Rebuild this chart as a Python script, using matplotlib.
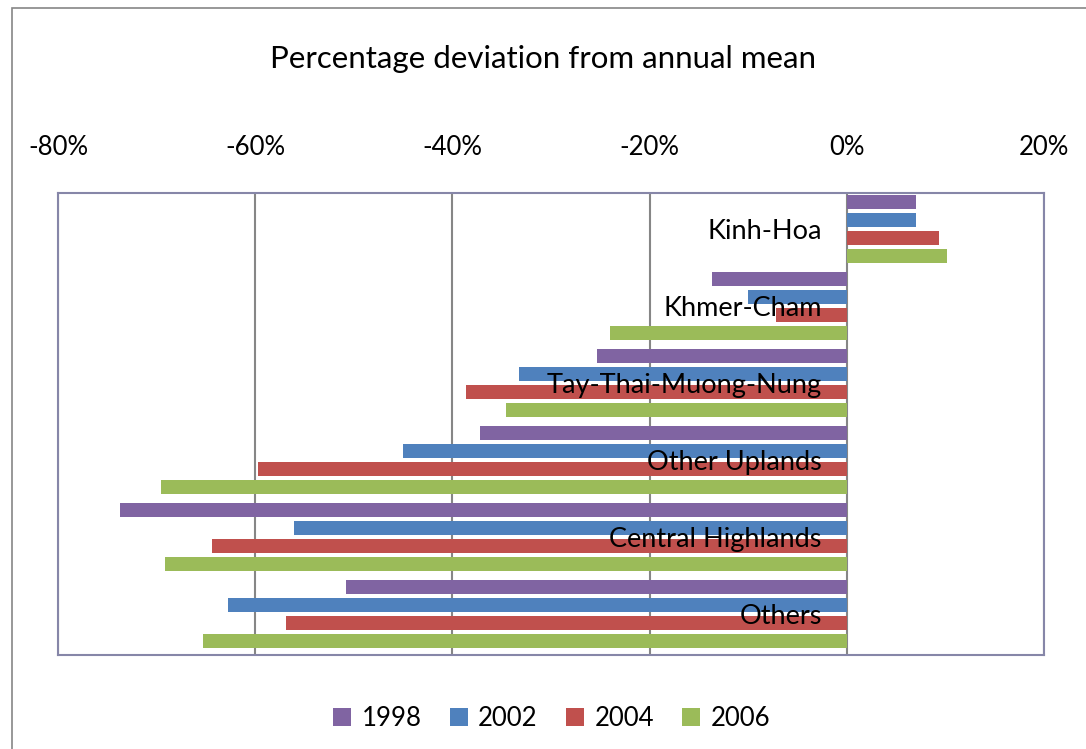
import matplotlib.pyplot as plt
from matplotlib.patches import Rectangle
from matplotlib.ticker import FuncFormatter
import numpy as np

plt.rcParams['font.family'] = ['Lato', 'DejaVu Sans']

groups = ['Kinh-Hoa', 'Khmer-Cham', 'Tay-Thai-Muong-Nung', 'Other Uplands',
          'Central Highlands', 'Others']
years = ['1998', '2002', '2004', '2006']
colors = ['#8064A2', '#4F81BD', '#C0504D', '#9BBB59']

# percent deviation, one list per year, in group order
v1998 = [7.0, -13.7, -25.3, -37.2, -73.7, -50.8]
v2002 = [7.0, -10.0, -33.2, -45.0, -56.1, -62.8]
v2004 = [9.4, -7.2, -38.6, -59.7, -64.4, -56.9]
v2006 = [10.2, -24.0, -34.6, -69.6, -69.1, -65.3]
series = [v1998, v2002, v2004, v2006]

fig = plt.figure(figsize=(10.86, 7.49), dpi=100)
# outer chart border (cut off on right/bottom like the screenshot)
fig.patches.append(Rectangle((12/1086, -0.1), 1.2, 1.1 - 8/749,
                             transform=fig.transFigure, fill=False,
                             edgecolor='#868686', linewidth=1.2))
ax = fig.add_axes([58/1086, 1 - 655/749, 986/1086, 462/749])

ypos = np.arange(len(groups))
slot = 18/77
h = 14/77
for i, (vals, yr, c) in enumerate(zip(series, years, colors)):
    off = (i - 1.5) * slot - 0.035
    ax.barh(ypos + off, vals, height=h, color=c, label=yr, zorder=3)

ax.set_xlim(-80, 20)
ax.set_ylim(len(groups) - 0.5, -0.5)
ax.set_xticks([-80, -60, -40, -20, 0, 20])
ax.xaxis.set_major_formatter(FuncFormatter(lambda v, p: f'{int(v)}%'))
ax.xaxis.tick_top()
ax.tick_params(axis='x', length=0, pad=24, labelsize=18.5)
ax.set_yticks([])
ax.grid(axis='x', color='#868686', linewidth=1.5, zorder=0)
for s in ax.spines.values():
    s.set_color('#8686A8')
    s.set_linewidth(1.5)

for y, g in zip(ypos, groups):
    ax.annotate(g, xy=(0, y), xytext=(-18, 0), textcoords='offset points',
                ha='right', va='center', fontsize=19.5, zorder=4)

fig.text(0.5, 1 - 59/749, 'Percentage deviation from annual mean',
         ha='center', va='center', fontsize=22.5)

fig.legend(loc='center', bbox_to_anchor=(0.508, 1 - 718/749), ncol=4,
           frameon=False, fontsize=18.5, handlelength=0.7, handleheight=0.7,
           columnspacing=1.1, handletextpad=0.4)

fig.savefig('out.png', dpi=100)
